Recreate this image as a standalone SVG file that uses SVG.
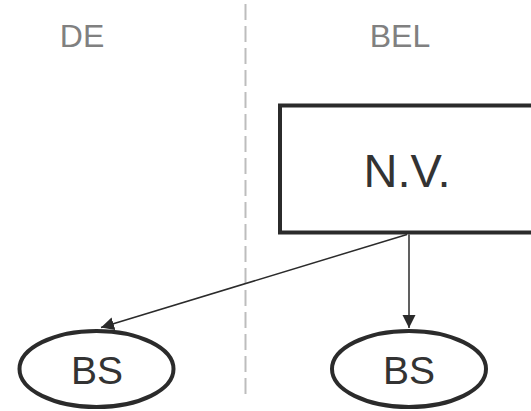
<svg xmlns="http://www.w3.org/2000/svg" width="531" height="411" viewBox="0 0 531 411">
  <style>
    .region { font-family: "Liberation Sans", Arial, sans-serif; font-size: 32px; fill: #808080; text-anchor: middle; }
    .label { font-family: "Liberation Sans", Arial, sans-serif; fill: #333333; text-anchor: middle; }
    .shape { fill: #ffffff; stroke: #2b2b2b; stroke-width: 4; }
    .edge { fill: none; stroke: #2b2b2b; stroke-width: 1.5; }
    .border { stroke: #bdbdbd; stroke-width: 2; stroke-dasharray: 16 6; }
  </style>
  <defs>
    <marker id="arrow" viewBox="0 0 10 10" refX="10" refY="5" markerWidth="13" markerHeight="15" markerUnits="userSpaceOnUse" orient="auto">
      <path d="M0,0 L10,5 L0,10 Z" fill="#2b2b2b"/>
    </marker>
  </defs>

  <!-- border between regions -->
  <line class="border" x1="245.5" y1="4" x2="245.5" y2="394"/>
  <text class="region" x="82" y="46.5">DE</text>
  <text class="region" x="400" y="46.5">BEL</text>

  <g id="nv">
    <rect class="shape" x="280" y="105.5" width="260" height="127"/>
    <text class="label" x="407" y="187" font-size="47">N.V.</text>
  </g>

  <g id="bs-de">
    <ellipse class="shape" cx="96.5" cy="369" rx="77" ry="38"/>
    <text class="label" x="97" y="384" font-size="39">BS</text>
  </g>

  <g id="bs-bel">
    <ellipse class="shape" cx="409" cy="369" rx="77" ry="38"/>
    <text class="label" x="409" y="384" font-size="39">BS</text>
  </g>

  <g id="connectors">
    <line class="edge" x1="407" y1="234.5" x2="101" y2="327.5" marker-end="url(#arrow)"/>
    <line class="edge" x1="409" y1="234.5" x2="409" y2="328" marker-end="url(#arrow)"/>
  </g>
</svg>
